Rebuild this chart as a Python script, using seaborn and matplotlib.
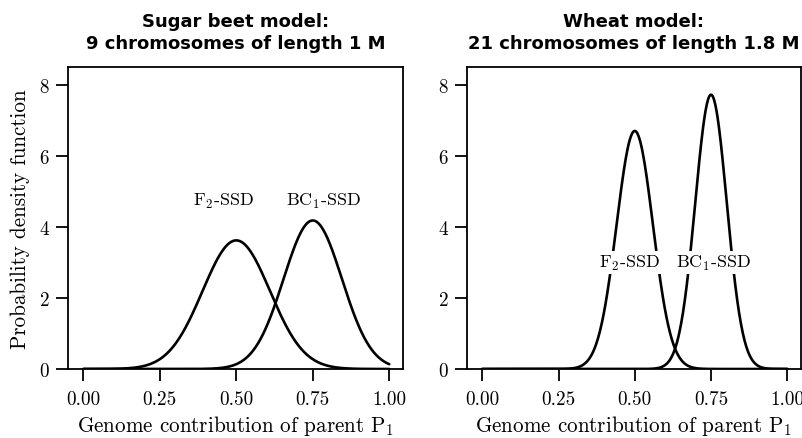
import numpy as np
import pandas as pd
import matplotlib
matplotlib.use("Agg")
import matplotlib.pyplot as plt
import seaborn as sns

# ---- data ----
panels = ["Sugar beet model:\n9 chromosomes of length 1 M",
          "Wheat model:\n21 chromosomes of length 1.8 M"]
populations = ["F$_2$-SSD", "BC$_1$-SSD"]
# means of the genome contribution of parent P1 (per population)
means = [0.50, 0.75]
# peak density: [sugar beet], [wheat]
peaks_sugar = [3.62, 4.18]
peaks_wheat = [6.70, 7.72]
# label positions (x, y)
label_x_sugar = [0.458, 0.785]
label_y_sugar = [4.73, 4.73]
label_x_wheat = [0.481, 0.757]
label_y_wheat = [3.0, 3.0]
xticks = [0.00, 0.25, 0.50, 0.75, 1.00]
yticks = [0, 2, 4, 6, 8]

sns.set_style("ticks")
plt.rcParams["font.family"] = ["cmr10", "DejaVu Sans"]
plt.rcParams["mathtext.fontset"] = "cm"
plt.rcParams["axes.unicode_minus"] = False
plt.rcParams["axes.formatter.use_mathtext"] = True
plt.rcParams["text.color"] = "black"
plt.rcParams["axes.labelcolor"] = "black"
plt.rcParams["xtick.color"] = "black"
plt.rcParams["ytick.color"] = "black"

x = np.linspace(0, 1, 501)
rows = []
for p, peaks in enumerate([peaks_sugar, peaks_wheat]):
    for pop, mu, pk in zip(populations, means, peaks):
        sd = 1.0 / (pk * np.sqrt(2 * np.pi))
        y = pk * np.exp(-0.5 * ((x - mu) / sd) ** 2)
        rows.append(pd.DataFrame({"panel": p, "pop": pop, "x": x, "y": y}))
df = pd.concat(rows, ignore_index=True)

fig = plt.figure(figsize=(8.03, 4.39), dpi=100)
ax1 = fig.add_axes([68 / 803, 69 / 439, 335 / 803, 302 / 439])
ax2 = fig.add_axes([467 / 803, 69 / 439, 334 / 803, 302 / 439])

for p, ax in enumerate([ax1, ax2]):
    sub = df[df.panel == p]
    sns.lineplot(data=sub, x="x", y="y", hue="pop", palette=["black", "black"],
                 linewidth=1.9, legend=False, ax=ax, sort=False, estimator=None,
                 units="pop")
    ax.set_xlim(-0.05, 1.045)
    ax.set_ylim(0, 8.5)
    ax.set_xticks(xticks)
    ax.set_xticklabels([f"{t:.2f}" for t in xticks])
    ax.set_yticks(yticks)
    ax.set_yticklabels([str(t) for t in yticks])
    for s in ax.spines.values():
        s.set_visible(True)
        s.set_linewidth(1.3)
        s.set_color("black")
    ax.tick_params(axis="x", direction="out", length=8.5, width=1.3,
                   labelsize=13.8, colors="black", pad=7)
    ax.tick_params(axis="y", direction="out", length=8.5, width=1.3,
                   labelsize=13.8, colors="black", pad=5)
    ax.set_xlabel("Genome contribution of parent P$_1$", fontsize=15.2,
                  labelpad=3, color="black")
    ax.set_ylabel("")
    ax.set_title(panels[p], fontsize=13, fontweight="bold", color="black",
                 family="DejaVu Sans", linespacing=1.25, pad=14)

ax1.set_ylabel("Probability density function", fontsize=15.2, labelpad=7,
               color="black")

for pop, lx, ly in zip(populations, label_x_sugar, label_y_sugar):
    ax1.text(lx, ly, pop, ha="center", va="center", fontsize=13)
for pop, lx, ly in zip(populations, label_x_wheat, label_y_wheat):
    ax2.text(lx, ly, pop, ha="center", va="center", fontsize=13,
             bbox=dict(facecolor="white", edgecolor="none", pad=1.5))

fig.savefig("out.png", dpi=100)
